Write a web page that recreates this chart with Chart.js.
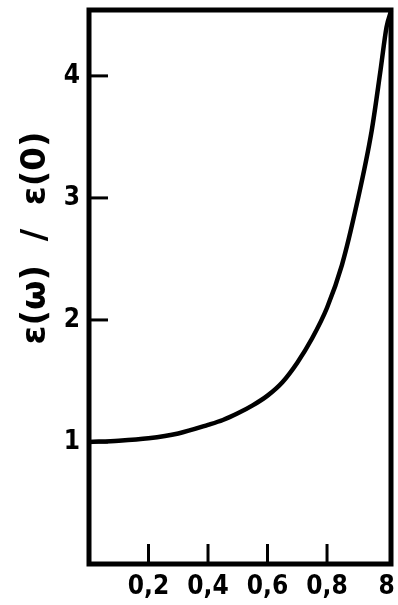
<!DOCTYPE html>
<html>
<head>
<meta charset="utf-8">
<script src="https://cdn.jsdelivr.net/npm/chart.js@4/dist/chart.umd.min.js"></script>
<style>
  html, body { margin: 0; padding: 0; background: #fff; }
  #wrap { width: 398px; height: 605px; position: relative; }
</style>
</head>
<body>
<div id="wrap"><canvas id="c"></canvas></div>
<script>
// Data
const xValues = [0, 0.1, 0.2, 0.3, 0.4, 0.45, 0.5, 0.55, 0.6, 0.65, 0.7, 0.75, 0.8, 0.85, 0.9, 0.95, 0.98, 1.0, 1.015];
const yValues = [1.00, 1.01, 1.03, 1.07, 1.14, 1.18, 1.235, 1.30, 1.38, 1.49, 1.65, 1.85, 2.10, 2.45, 2.95, 3.55, 4.05, 4.40, 4.53];
const xTickValues = [0.2, 0.4, 0.6, 0.8, 1.0];
const xTickLabels = ['0,2', '0,4', '0,6', '0,8', '8'];
const yTickValues = [1, 2, 3, 4];
const yTickLabels = ['1', '2', '3', '4'];
const yTitle = 'ε(ω)  /  ε(0)';

const points = xValues.map((x, i) => ({ x: x, y: yValues[i] }));
const tickFont = { family: "'Liberation Sans Narrow', 'DejaVu Sans Condensed', sans-serif", size: 26, weight: 'bold' };

const framePlugin = {
  id: 'frame',
  afterDraw(chart) {
    const { ctx, chartArea: a, scales } = chart;
    ctx.save();
    ctx.strokeStyle = '#000';
    ctx.lineWidth = 3;
    yTickValues.forEach(v => {
      const py = scales.y.getPixelForValue(v);
      ctx.beginPath(); ctx.moveTo(a.left, py); ctx.lineTo(a.left + 19, py); ctx.stroke();
    });
    xTickValues.slice(0, 4).forEach(v => {
      const px = scales.x.getPixelForValue(v);
      ctx.beginPath(); ctx.moveTo(px, a.bottom); ctx.lineTo(px, a.bottom - 20); ctx.stroke();
    });
    ctx.lineWidth = 5;
    ctx.strokeRect(a.left, a.top, a.right - a.left, a.bottom - a.top);
    ctx.translate(36, 238);
    ctx.rotate(-Math.PI / 2);
    ctx.fillStyle = '#000';
    ctx.font = "bold 34px 'DejaVu Sans', sans-serif";
    ctx.textAlign = 'center';
    ctx.textBaseline = 'middle';
    ctx.fillText(yTitle, 0, 0);
    ctx.restore();
  }
};

new Chart(document.getElementById('c'), {
  type: 'line',
  data: {
    datasets: [{
      data: points,
      borderColor: '#000',
      borderWidth: 4.5,
      pointRadius: 0,
      cubicInterpolationMode: 'monotone',
      fill: false,
      clip: false
    }]
  },
  options: {
    responsive: true,
    maintainAspectRatio: false,
    animation: false,
    layout: { padding: { top: 10, right: 7, left: 0, bottom: 0 } },
    plugins: { legend: { display: false }, tooltip: { enabled: false } },
    scales: {
      x: {
        type: 'linear',
        min: 0,
        max: 1.015,
        afterBuildTicks(s) { s.ticks = xTickValues.map(v => ({ value: v })); },
        afterFit(s) { s.height = 41; s.paddingLeft = 0; s.paddingRight = 0; },
        grid: { display: false, drawTicks: false },
        border: { display: false },
        ticks: {
          padding: 8,
          color: '#000',
          font: tickFont,
          maxRotation: 0,
          autoSkip: false,
          callback: (v) => { const i = xTickValues.indexOf(v); return i >= 0 ? xTickLabels[i] : ''; }
        }
      },
      y: {
        type: 'linear',
        min: 0,
        max: 4.54,
        afterBuildTicks(s) { s.ticks = yTickValues.map(v => ({ value: v })); },
        afterFit(s) { s.width = 89; s.paddingTop = 0; s.paddingBottom = 0; },
        grid: { display: false, drawTicks: false },
        border: { display: false },
        ticks: {
          padding: 9,
          color: '#000',
          font: tickFont,
          autoSkip: false,
          callback: (v) => { const i = yTickValues.indexOf(v); return i >= 0 ? yTickLabels[i] : ''; }
        }
      }
    }
  },
  plugins: [framePlugin]
});
</script>
</body>
</html>
